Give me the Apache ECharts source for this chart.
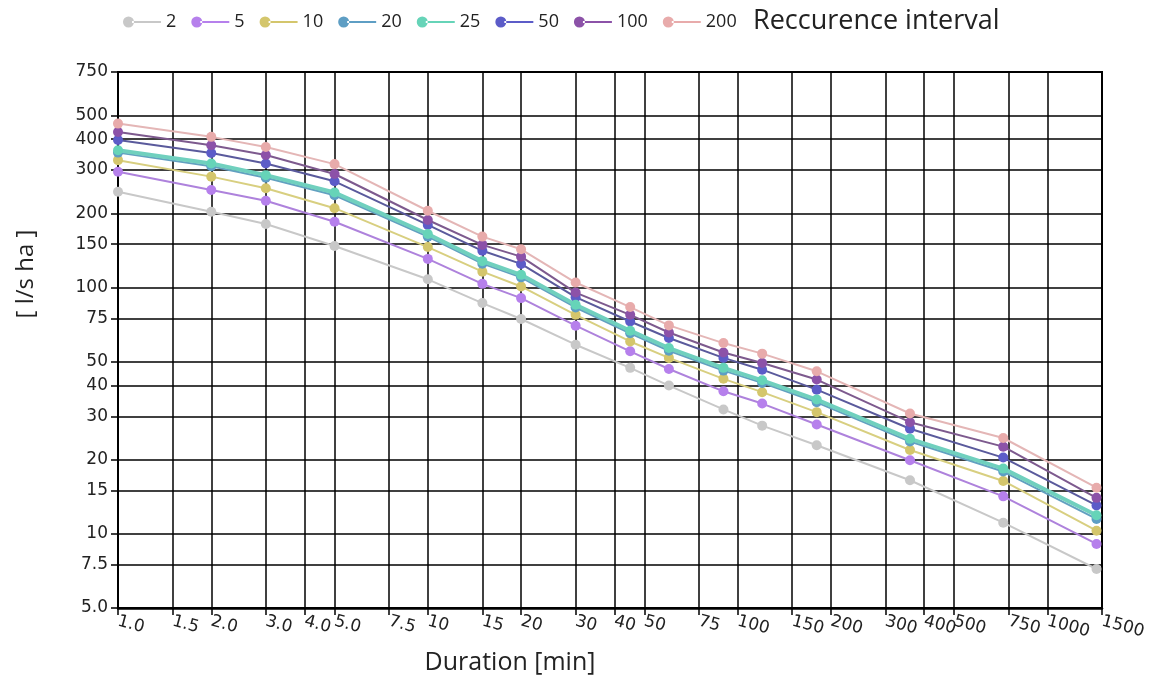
<!DOCTYPE html>
<html>
<head>
<meta charset="utf-8">
<script src="https://cdn.jsdelivr.net/npm/echarts@6/dist/echarts.min.js"></script>
<style>html,body{margin:0;padding:0;background:#fff;}#chart{width:1155px;height:682px;}</style>
</head>
<body>
<div id="chart"></div>
<script>
// Durations [min]
var durations = [1, 2, 3, 5, 10, 15, 20, 30, 45, 60, 90, 120, 180, 360, 720, 1440];
// Rainfall intensity [l/s ha] per recurrence interval
var r2   = [245, 203, 181, 147.5, 108, 86.5, 74.5, 58.6, 47.2, 40, 32, 27.5, 22.9, 16.5, 11.1, 7.2];
var r5   = [295, 249, 225, 185, 130.7, 103.5, 90.6, 70, 55.1, 46.7, 37.9, 33.8, 27.8, 19.9, 14.2, 9.1];
var r10  = [329, 282, 253, 210, 146, 116, 101, 77.5, 60.4, 51.8, 42.6, 37.6, 31.2, 21.9, 16.4, 10.3];
var r20  = [353, 311, 279, 237, 161, 125, 110, 83, 65.2, 55.4, 46, 41, 34.2, 23.7, 17.9, 11.5];
var r25  = [361, 319, 286, 243, 165, 128, 112.6, 85.1, 66.8, 56.8, 47.2, 42, 35.1, 24.3, 18.4, 11.9];
var r50  = [397, 352, 319, 270, 179.5, 141, 124.7, 91.4, 72.8, 62.4, 51.8, 46.4, 38.5, 26.7, 20.4, 13.05];
var r100 = [428, 378, 345, 289, 188, 149, 133.5, 95.4, 77.5, 65.7, 54.5, 49.4, 42.3, 28.4, 22.6, 14.0];
var r200 = [463, 409, 372, 317, 205, 161, 143, 104.8, 83.3, 70.2, 59.5, 53.9, 45.7, 30.8, 24.5, 15.4];
var seriesNames = ['2', '5', '10', '20', '25', '50', '100', '200'];
// Tick labels
var xTickLabels = ['1.0','1.5','2.0','3.0','4.0','5.0','7.5','10','15','20','30','40','50','75','100','150','200','300','400','500','750','1000','1500'];
var yTickLabels = ['5.0','7.5','10','15','20','30','40','50','75','100','150','200','300','400','500','750'];

var seriesValues = [r2, r5, r10, r20, r25, r50, r100, r200];
var markerColors = ['#c8c8c8', '#b680ec', '#d4c66c', '#5e9ec4', '#66d4b8', '#5c5cc8', '#8c52a8', '#e8abab'];
var lineColors   = ['#c8c8c8', '#ae82dc', '#d8cf80', '#62a0c0', '#70d0be', '#5a5a9c', '#7d5a8e', '#e4b6b6'];
var lineWidths   = [2, 2, 2, 2, 4, 2, 2, 2];

function lg(v) { return Math.log10(v); }
var xTickVals = xTickLabels.map(function (t) { return lg(parseFloat(t)); });
var yTickVals = yTickLabels.map(function (t) { return lg(parseFloat(t)); });
function labeler(labels, vals) {
  return function (v) {
    var best = 0;
    for (var i = 1; i < vals.length; i++) {
      if (Math.abs(vals[i] - v) < Math.abs(vals[best] - v)) best = i;
    }
    return labels[best];
  };
}

var legendIcon = 'path://M0,5.5a5.5,5.5 0 1,0 11,0a5.5,5.5 0 1,0 -11,0Z M9,4.5H38V6.5H9Z';

var series = seriesNames.map(function (name, k) {
  return {
    name: name,
    type: 'line',
    symbol: 'circle',
    symbolSize: 10,
    z: k === 4 ? 3 : 2,
    itemStyle: { color: markerColors[k] },
    lineStyle: { color: lineColors[k], width: lineWidths[k] },
    data: durations.map(function (d, i) { return [lg(d), lg(seriesValues[k][i])]; })
  };
});

var chart = echarts.init(document.getElementById('chart'), null, { renderer: 'canvas' });
chart.setOption({
  animation: false,
  backgroundColor: '#fff',
  title: {
    text: 'Reccurence interval',
    left: 748, top: 3,
    textStyle: { fontFamily: 'Open Sans', fontSize: 27, fontWeight: 'normal', color: '#222' }
  },
  legend: {
    left: 118, top: 8,
    icon: legendIcon,
    itemWidth: 38, itemHeight: 11, itemGap: 15,
    textStyle: { fontFamily: 'Open Sans', fontSize: 18, color: '#222' },
    data: seriesNames
  },
  grid: { left: 118, right: 53, top: 72, bottom: 74, show: true, borderColor: '#000', borderWidth: 2 },
  xAxis: {
    type: 'value',
    min: lg(1), max: lg(1500),
    name: 'Duration [min]',
    nameLocation: 'middle',
    nameGap: 42,
    nameTextStyle: { fontFamily: 'Open Sans', fontSize: 25, color: '#222', padding: [0, 200, 0, 0] },
    axisLine: { show: true, lineStyle: { color: '#000', width: 2.5 } },
    axisTick: { show: true, customValues: xTickVals, length: 7, lineStyle: { color: '#000', width: 1.5 } },
    axisLabel: {
      customValues: xTickVals, formatter: labeler(xTickLabels, xTickVals),
      rotate: -15, margin: 13, fontFamily: 'DejaVu Sans', fontSize: 17, color: '#222'
    },
    splitLine: { show: true, lineStyle: { color: '#000', width: 1.5 } }
  },
  yAxis: {
    type: 'value',
    min: lg(5), max: lg(750),
    name: '[ l/s ha ]',
    nameLocation: 'middle',
    nameGap: 80,
    nameRotate: 90,
    nameTextStyle: { fontFamily: 'Open Sans', fontSize: 24, color: '#222', padding: [0, 0, 0, 132] },
    axisLine: { show: true, lineStyle: { color: '#000', width: 2 } },
    axisTick: { show: true, customValues: yTickVals, length: 7, lineStyle: { color: '#000', width: 1.5 } },
    axisLabel: {
      customValues: yTickVals, formatter: labeler(yTickLabels, yTickVals),
      margin: 10, fontFamily: 'DejaVu Sans', fontSize: 17, color: '#222'
    },
    splitLine: { show: true, lineStyle: { color: '#000', width: 1.5 } }
  },
  series: series
});
</script>
</body>
</html>
